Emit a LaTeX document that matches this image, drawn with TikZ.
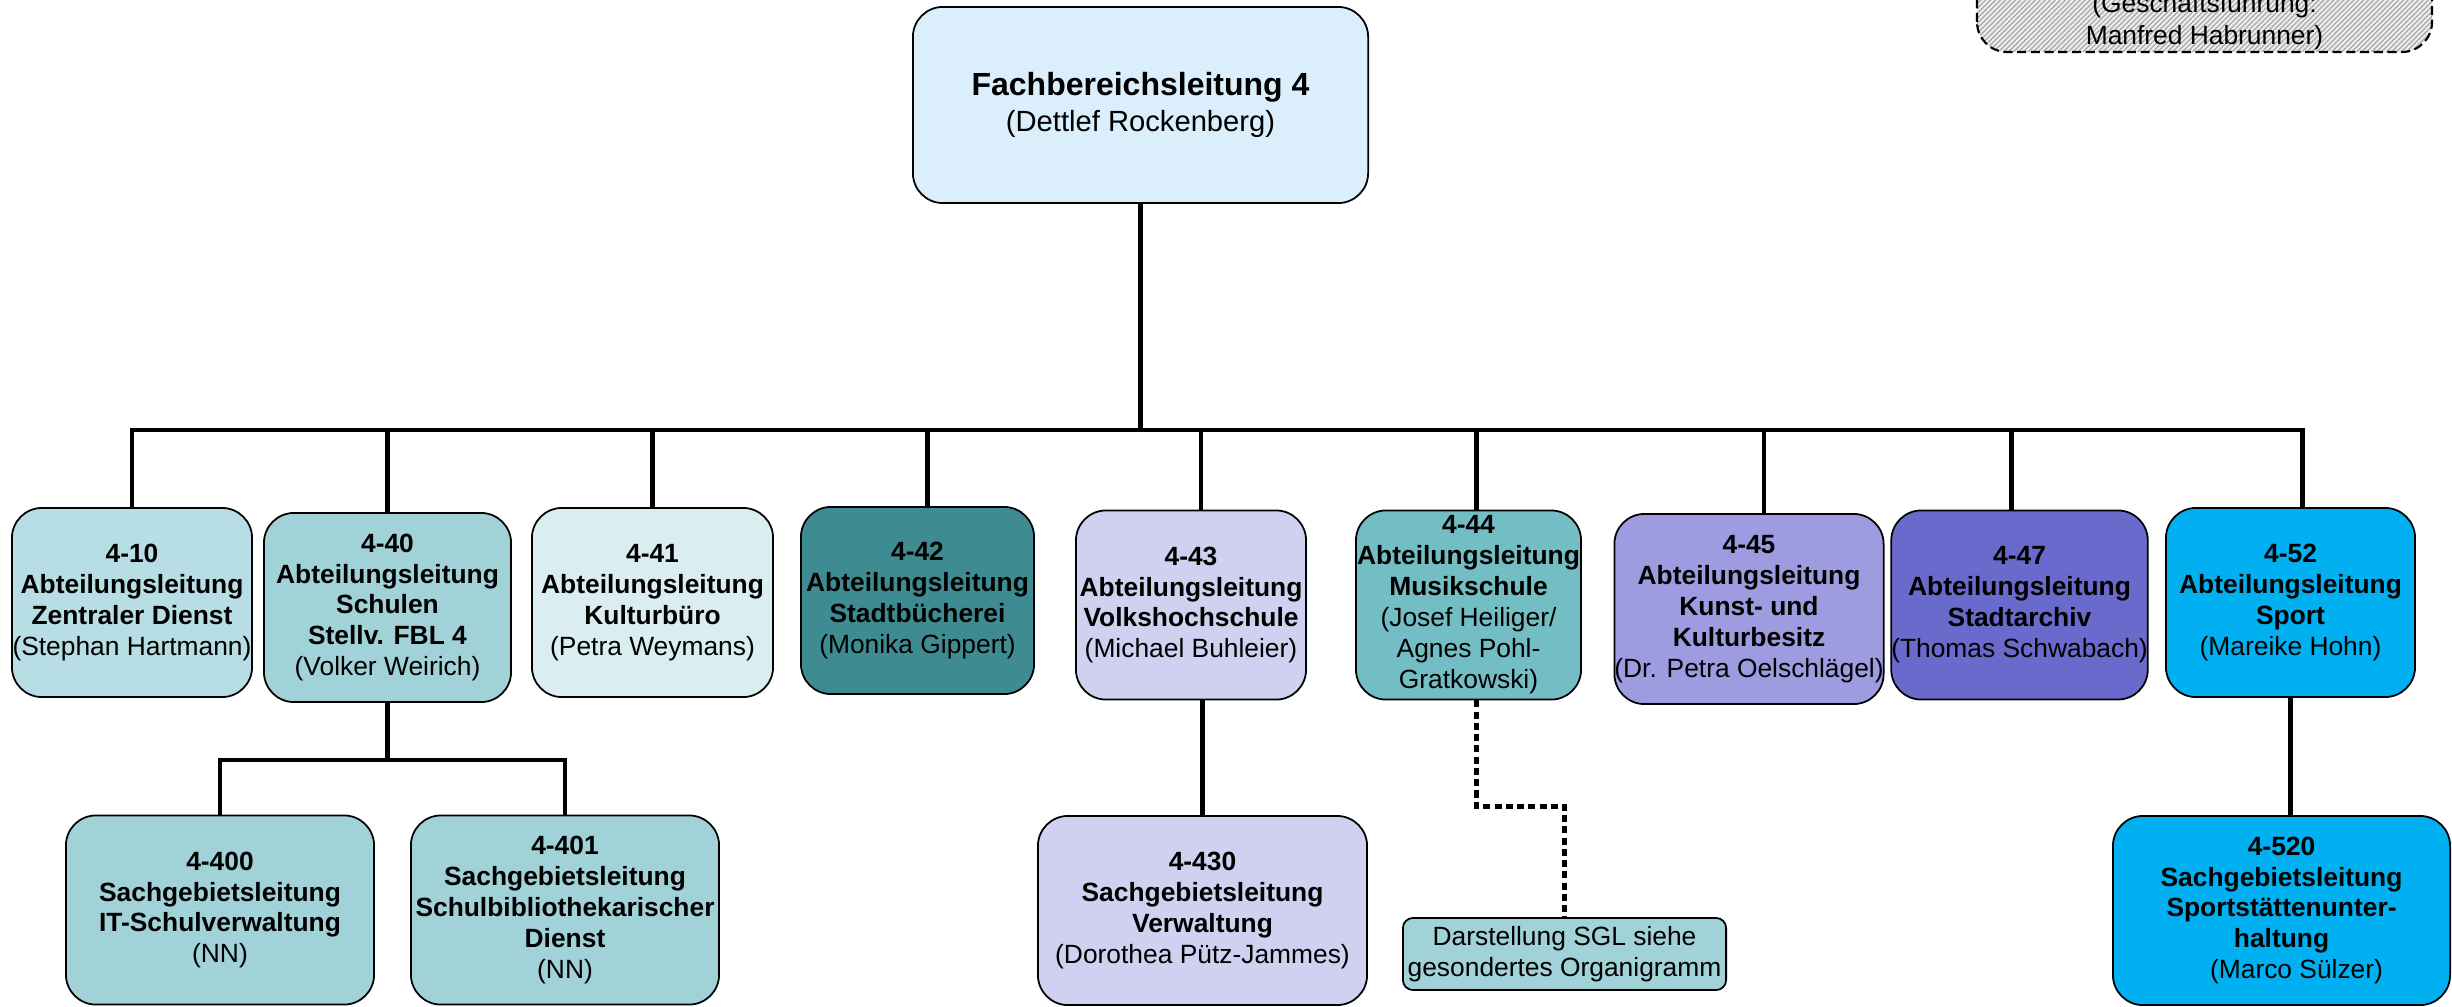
\documentclass[tikz,border=0pt]{standalone}
\usepackage{fontspec}
\setmainfont{Liberation Sans}
\usetikzlibrary{calc}
\usetikzlibrary{patterns.meta}

\definecolor{fblblue}{RGB}{218,238,251}
\definecolor{tealA}{RGB}{183,222,228}
\definecolor{tealB}{RGB}{160,210,216}
\definecolor{tealC}{RGB}{218,238,241}
\definecolor{tealD}{RGB}{62,140,146}
\definecolor{tealE}{RGB}{115,190,196}
\definecolor{lilacA}{RGB}{208,208,240}
\definecolor{lilacB}{RGB}{158,156,224}
\definecolor{lilacC}{RGB}{106,106,204}
\definecolor{sportblue}{RGB}{0,176,240}

\tikzset{
  org/.style={draw=black, line width=0.5pt, rounded corners=0.3cm, align=center,
    inner sep=0pt, minimum height=1.89cm, font=\fontsize{7.5}{8.8}\selectfont},
  link/.style={black, line width=1.4pt},
  dotlink/.style={black, line width=1.4pt, dash pattern=on 2pt off 1.2pt},
  gfbox/.style={draw=black, line width=0.6pt, dash pattern=on 2.6pt off 1.3pt,
    rounded corners=0.3cm, preaction={fill=gray!12},
    pattern={Lines[angle=45,distance=1pt,line width=0.4pt]}, pattern color=gray!65},
}

\begin{document}
\begin{tikzpicture}[x=0.01cm, y=-0.01cm]
\useasboundingbox (0,0) rectangle (2452,1006);
\clip (0,0) rectangle (2452,1006);

% Geschaeftsfuehrung (oben rechts, angeschnitten)
\draw[gfbox] (1977,52) rectangle (2432,-80);
\node[anchor=south, align=center, inner sep=0pt, font=\fontsize{7.5}{9.1}\selectfont] (gf) at (2204.5,51)
  {(Geschäftsführung:\\Manfred Habrunner)};

% Fachbereichsleitung
\node[org, fill=fblblue, minimum width=4.55cm, minimum height=1.96cm, font=\fontsize{9.1}{10.24}\selectfont] (fbl) at (1140.5,105)
  {\textbf{Fachbereichsleitung 4}\\{\fontsize{8.3}{10.24}\selectfont (Dettlef Rockenberg)}};

% Abteilungen
\node[org, fill=tealA, minimum width=2.40cm] (a10) at (132,602.5)
  {\textbf{4-10}\\\textbf{Abteilungsleitung}\\\textbf{Zentraler Dienst}\\(Stephan Hartmann)};
\node[org, fill=tealB, minimum width=2.47cm] (a40) at (387.5,607.5)
  {\textbf{4-40}\\\textbf{Abteilungsleitung}\\\textbf{Schulen}\\\textbf{Stellv. FBL 4}\\(Volker Weirich)};
\node[org, fill=tealC, minimum width=2.41cm] (a41) at (652.5,602.5)
  {\textbf{4-41}\\\textbf{Abteilungsleitung}\\\textbf{Kulturbüro}\\(Petra Weymans)};
\node[org, fill=tealD, minimum width=2.33cm, minimum height=1.87cm] (a42) at (917.5,600.5)
  {\textbf{4-42}\\\textbf{Abteilungsleitung}\\\textbf{Stadtbücherei}\\(Monika Gippert)};
\node[org, fill=lilacA, minimum width=2.30cm] (a43) at (1191,605)
  {\textbf{4-43}\\\textbf{Abteilungsleitung}\\\textbf{Volkshochschule}\\(Michael Buhleier)};
\node[org, fill=tealE, minimum width=2.25cm] (a44) at (1468.5,605)
  {\textbf{4-44}\\\textbf{Abteilungsleitung}\\\textbf{Musikschule}\\(Josef Heiliger/\\Agnes Pohl-\\Gratkowski)};
\node[org, fill=lilacB, minimum width=2.64cm, minimum height=1.90cm] (a45) at (1749,609)
  {\textbf{4-45}\\\textbf{Abteilungsleitung}\\\textbf{Kunst- und}\\\textbf{Kulturbesitz}\\(Dr. Petra Oelschlägel)};
\node[org, fill=lilacC, minimum width=2.55cm] (a47) at (2019.5,605)
  {\textbf{4-47}\\\textbf{Abteilungsleitung}\\\textbf{Stadtarchiv}\\(Thomas Schwabach)};
\node[org, fill=sportblue, minimum width=2.49cm] (a52) at (2290.5,602.5)
  {\textbf{4-52}\\\textbf{Abteilungsleitung}\\\textbf{Sport}\\(Mareike Hohn)};

% Sachgebiete
\node[org, fill=tealB, minimum width=3.08cm] (s400) at (220,910)
  {\textbf{4-400}\\\textbf{Sachgebietsleitung}\\\textbf{IT-Schulverwaltung}\\(NN)};
\node[org, fill=tealB, minimum width=3.08cm] (s401) at (565,910)
  {\textbf{4-401}\\\textbf{Sachgebietsleitung}\\\textbf{Schulbibliothekarischer}\\\textbf{Dienst}\\(NN)};
\node[org, fill=lilacA, minimum width=3.29cm] (s430) at (1202.5,910.5)
  {\textbf{4-430}\\\textbf{Sachgebietsleitung}\\\textbf{Verwaltung}\\(Dorothea Pütz-Jammes)};
\node[org, fill=tealB, minimum width=3.23cm, minimum height=0.72cm, rounded corners=0.1cm] (sgl) at (1564.5,954)
  {Darstellung SGL siehe\\gesondertes Organigramm};
\node[org, fill=sportblue, minimum width=3.37cm] (s520) at (2281.5,910.5)
  {\textbf{4-520}\\\textbf{Sachgebietsleitung}\\\textbf{Sportstättenunter-}\\\textbf{haltung}\\\hspace{0.3cm}(Marco Sülzer)};

% Verbindungen
\coordinate (bus) at (1140,430);
\coordinate (schulbus) at (388,760);
\draw[link] (fbl.south) -- (fbl.south |- bus);
\draw[link, line cap=rect] (a10.north |- bus) -- ($(a52.north |- bus)+(12,0)$);
\foreach \n/\dx in {a10/0, a40/0, a41/0, a42/10, a43/10, a44/8, a45/15, a47/-8, a52/12}
  \draw[link] ($(\n.north)+(\dx,0)$) -- ($(\n.north |- bus)+(\dx,0)$);
\draw[link] (a40.south) -- (a40.south |- schulbus);
\draw[link] (s400.north) |- (schulbus) -| (s401.north);
\draw[link] (a43.south -| s430.north) -- (s430.north);
\draw[dotlink] ($(a44.south)+(8,0)$) |- ($(sgl.north)+(0,-111)$) -- (sgl.north);
\draw[link] (a52.south) -- (a52.south |- s520.north);
\end{tikzpicture}
\end{document}
